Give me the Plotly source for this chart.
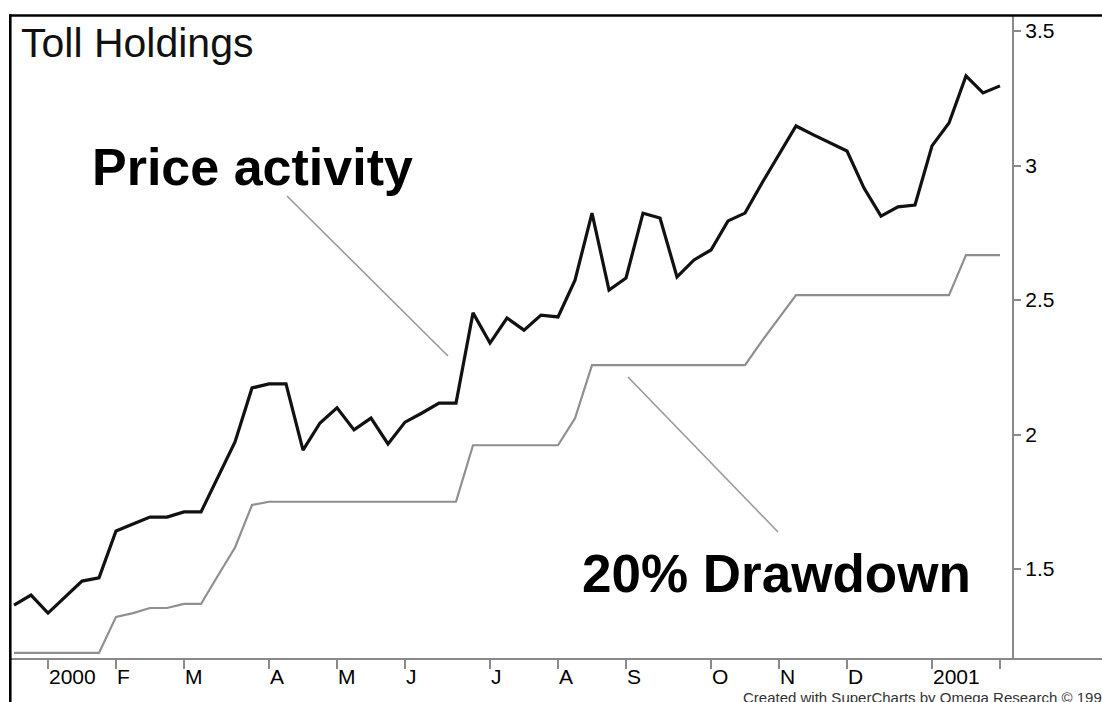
import plotly.graph_objects as go

# ---- data (weekly closes) ----
dates = [
    "1999-12-24", "1999-12-31",
    "2000-01-07", "2000-01-14", "2000-01-21", "2000-01-28",
    "2000-02-04", "2000-02-11", "2000-02-18", "2000-02-25",
    "2000-03-03", "2000-03-10", "2000-03-17", "2000-03-24", "2000-03-31",
    "2000-04-07", "2000-04-14", "2000-04-21", "2000-04-28",
    "2000-05-05", "2000-05-12", "2000-05-19", "2000-05-26",
    "2000-06-02", "2000-06-09", "2000-06-16", "2000-06-23", "2000-06-30",
    "2000-07-07", "2000-07-14", "2000-07-21", "2000-07-28",
    "2000-08-04", "2000-08-11", "2000-08-18", "2000-08-25",
    "2000-09-01", "2000-09-08", "2000-09-15", "2000-09-22", "2000-09-29",
    "2000-10-06", "2000-10-13", "2000-10-20", "2000-10-27",
    "2000-11-03", "2000-11-10", "2000-11-17", "2000-11-24",
    "2000-12-01", "2000-12-08", "2000-12-15", "2000-12-22", "2000-12-29",
    "2001-01-05", "2001-01-12", "2001-01-19", "2001-01-26",
    "2001-02-02",
]

price = [
    1.366, 1.403,
    1.336, 1.396, 1.455, 1.467,
    1.641, 1.667, 1.693, 1.693,
    1.712, 1.712, 1.842, 1.972, 2.173,
    2.188, 2.188, 1.942, 2.043,
    2.099, 2.017, 2.061, 1.965,
    2.046, 2.080, 2.117, 2.117, 2.452,
    2.340, 2.433, 2.388, 2.444,
    2.437, 2.574, 2.823, 2.537,
    2.582, 2.823, 2.805, 2.586, 2.649,
    2.686, 2.794, 2.823, 2.935,
    3.043, 3.147, 3.115, 3.084,
    3.054, 2.916, 2.812, 2.846, 2.853,
    3.073, 3.158, 3.333, 3.270,
    3.296,
]

drawdown = [
    1.188, 1.188,
    1.188, 1.188, 1.188, 1.188,
    1.322, 1.336, 1.355, 1.355,
    1.370, 1.370, 1.476, 1.580, 1.738,
    1.750, 1.750, 1.750, 1.750,
    1.750, 1.750, 1.750, 1.750,
    1.750, 1.750, 1.750, 1.750, 1.960,
    1.960, 1.960, 1.960, 1.960,
    1.960, 2.060, 2.258, 2.258,
    2.258, 2.258, 2.258, 2.258, 2.258,
    2.258, 2.258, 2.258, 2.348,
    2.434, 2.518, 2.518, 2.518,
    2.518, 2.518, 2.518, 2.518, 2.518,
    2.518, 2.518, 2.667, 2.667,
    2.667,
]

x_tick_dates = ["2000-01-07", "2000-02-04", "2000-03-03", "2000-04-07", "2000-05-05",
                "2000-06-02", "2000-07-07", "2000-08-04", "2000-09-01", "2000-10-06",
                "2000-11-03", "2000-12-01", "2001-01-05", "2001-02-02"]
x_tick_labels = ["2000", "F", "M", "A", "M", "J", "J", "A", "S", "O", "N", "D", "2001", ""]

y_ticks = [1.5, 2, 2.5, 3, 3.5]
y_tick_labels = ["1.5", "2", "2.5", "3", "3.5"]

# ---- layout geometry (pixels) ----
W, H = 1102, 702
L, R, T, B = 11, 90, 16, 43
PW = W - L - R
PH = H - T - B


def px(x):
    return (x - L) / PW


def py(y):
    return (H - B - y) / PH


FONT = "Arial, Liberation Sans, Helvetica, sans-serif"
GRAY = "#8a8a8a"

fig = go.Figure()
fig.add_trace(go.Scatter(x=dates, y=drawdown, mode="lines",
                         line=dict(color="#8f8f8f", width=2.2), hoverinfo="skip"))
fig.add_trace(go.Scatter(x=dates, y=price, mode="lines",
                         line=dict(color="#111111", width=3.2), hoverinfo="skip"))

fig.update_layout(
    width=W, height=H,
    margin=dict(l=L, r=R, t=T, b=B, pad=0),
    paper_bgcolor="white", plot_bgcolor="white",
    showlegend=False,
    font=dict(family=FONT, color="#111111"),
    xaxis=dict(
        type="date",
        range=["1999-12-22 18:14", "2001-02-06 22:33"],
        tickvals=x_tick_dates, ticktext=x_tick_labels,
        showticklabels=False,
        ticks="outside", ticklen=9, tickwidth=2, tickcolor=GRAY,
        showgrid=False, zeroline=False, showline=False,
    ),
    yaxis=dict(
        side="right",
        range=[1.1654, 3.5558],
        tickvals=y_ticks, ticktext=y_tick_labels,
        ticks="outside", ticklen=7, tickwidth=2, tickcolor=GRAY,
        tickfont=dict(size=21, color="#000000", family=FONT),
        showgrid=False, zeroline=False,
        showline=True, linecolor=GRAY, linewidth=2.2,
    ),
)

shapes = [
    # bottom axis line running to the right edge
    dict(type="line", xref="paper", yref="paper", x0=px(L), x1=px(W + 5), y0=0, y1=0,
         line=dict(color=GRAY, width=2.2)),
    # black frame: left and top
    dict(type="line", xref="paper", yref="paper", x0=px(10.3), x1=px(10.3), y0=py(14.5), y1=py(H + 5),
         line=dict(color="black", width=2.6)),
    dict(type="line", xref="paper", yref="paper", x0=px(9), x1=px(W + 5), y0=py(15.5), y1=py(15.5),
         line=dict(color="black", width=2.6)),
    # pointer lines
    dict(type="line", xref="paper", yref="paper", x0=px(287), y0=py(196), x1=px(448), y1=py(356),
         line=dict(color="#9a9a9a", width=1.6)),
    dict(type="line", xref="paper", yref="paper", x0=px(628), y0=py(377), x1=px(778), y1=py(532),
         line=dict(color="#9a9a9a", width=1.6)),
]
fig.update_layout(shapes=shapes)

ann = []
for d, lab in zip(x_tick_dates, x_tick_labels):
    if lab:
        ann.append(dict(x=d, xref="x", y=py(677), yref="paper", text=lab, showarrow=False,
                        xanchor="left", yanchor="middle", xshift=-1,
                        font=dict(size=21, color="#000000", family=FONT)))
ann += [
    dict(x=px(19), y=py(43), xref="paper", yref="paper", text="Toll Holdings", showarrow=False,
         xanchor="left", yanchor="middle", font=dict(size=41, color="#111111", family=FONT)),
    dict(x=px(90), y=py(167), xref="paper", yref="paper", text="<b>Price activity</b>", showarrow=False,
         xanchor="left", yanchor="middle", font=dict(size=52, color="#000000", family=FONT)),
    dict(x=px(580), y=py(573), xref="paper", yref="paper", text="<b>20% Drawdown</b>", showarrow=False,
         xanchor="left", yanchor="middle", font=dict(size=53, color="#000000", family=FONT)),
    dict(x=px(741), y=py(697), xref="paper", yref="paper",
         text="Created with SuperCharts by Omega Research © 1999", showarrow=False,
         xanchor="left", yanchor="middle", font=dict(size=15, color="#333333", family=FONT)),
]
fig.update_layout(annotations=ann)

fig.write_html("out.html", config={"displayModeBar": False},
               post_script="document.body.style.margin='0';document.body.style.overflow='hidden';")
